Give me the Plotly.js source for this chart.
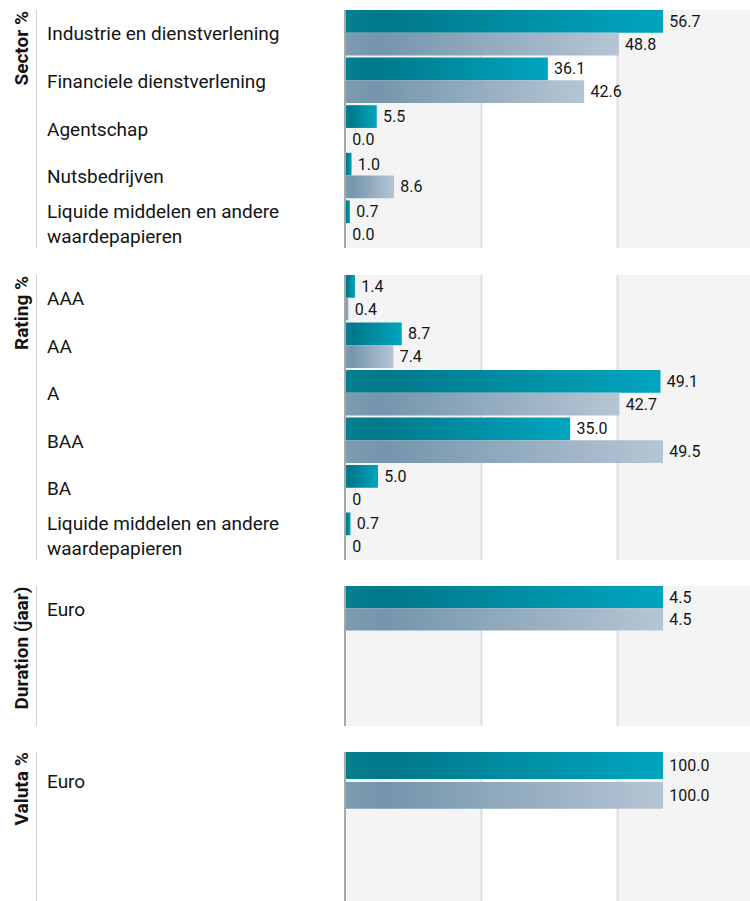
<!DOCTYPE html>
<html><head><meta charset="utf-8">
<script src="https://cdn.plot.ly/plotly-3.0.1.min.js"></script>
<style>html,body{margin:0;padding:0;background:#fff;}#chart{width:750px;height:901px;}</style>
</head><body><div id="chart"></div>
<script>
// ---- data ----
const sectorCats = ["Industrie en dienstverlening", "Financiele dienstverlening", "Agentschap", "Nutsbedrijven", "Liquide middelen en andere<br>waardepapieren"];
const sectorFund = [56.7, 36.1, 5.5, 1.0, 0.7];
const sectorBench = [48.8, 42.6, 0.0, 8.6, 0.0];
const sectorFundText = ["56.7", "36.1", "5.5", "1.0", "0.7"];
const sectorBenchText = ["48.8", "42.6", "0.0", "8.6", "0.0"];

const ratingCats = ["AAA", "AA", "A", "BAA", "BA", "Liquide middelen en andere<br>waardepapieren"];
const ratingFund = [1.4, 8.7, 49.1, 35.0, 5.0, 0.7];
const ratingBench = [0.4, 7.4, 42.7, 49.5, 0, 0];
const ratingFundText = ["1.4", "8.7", "49.1", "35.0", "5.0", "0.7"];
const ratingBenchText = ["0.4", "7.4", "42.7", "49.5", "0", "0"];

const durationCats = ["Euro"];
const durationFund = [4.5];
const durationBench = [4.5];
const durationFundText = ["4.5"];
const durationBenchText = ["4.5"];

const valutaCats = ["Euro"];
const valutaFund = [100.0];
const valutaBench = [100.0];
const valutaFundText = ["100.0"];
const valutaBenchText = ["100.0"];

const panelTitles = ["Sector %", "Rating %", "Duration (jaar)", "Valuta %"];

// ---- layout helpers ----
const W = 750, H = 901;
const TEAL = 'rgb(0, 137, 158)', GREY = 'rgb(138, 163, 186)';
const FONT = 'Roboto, "Noto Sans", sans-serif';
const TXT = '#141414';
const G1 = 0.3354, G2 = 0.6720; // band boundaries as fractions of the plot width
const panels = [
  {cats: sectorCats, fund: sectorFund, bench: sectorBench, ft: sectorFundText, bt: sectorBenchText, top: 10, bottom: 248, slot: 47.6, big: false},
  {cats: ratingCats, fund: ratingFund, bench: ratingBench, ft: ratingFundText, bt: ratingBenchText, top: 275, bottom: 560, slot: 47.5, big: false},
  {cats: durationCats, fund: durationFund, bench: durationBench, ft: durationFundText, bt: durationBenchText, top: 586, bottom: 726, slot: 46.67, big: false},
  {cats: valutaCats, fund: valutaFund, bench: valutaBench, ft: valutaFundText, bt: valutaBenchText, top: 752, bottom: 901, slot: 59, big: true}
];

const data = [];
const layout = {
  width: W, height: H,
  margin: {l: 0, r: 0, t: 0, b: 0, pad: 0},
  paper_bgcolor: '#ffffff', plot_bgcolor: '#ffffff',
  font: {family: FONT, color: TXT},
  showlegend: false, barmode: 'group', hovermode: false,
  shapes: [], annotations: []
};

panels.forEach((p, i) => {
  const s = i === 0 ? '' : String(i + 1);
  const xa = 'x' + s, ya = 'y' + s;
  const maxV = Math.max(...p.fund, ...p.bench);
  const yTop = 1 - p.top / H, yBot = 1 - p.bottom / H;
  const rangeEnd = -0.5 + (p.bottom - p.top) / p.slot;

  const common = {
    type: 'bar', orientation: 'h', xaxis: xa, yaxis: ya, y: p.cats,
    textposition: 'outside', texttemplate: '\u2009%{text}',
    textfont: {family: FONT, size: 16, color: TXT},
    constraintext: 'none', cliponaxis: false, hoverinfo: 'skip'
  };
  data.push(Object.assign({}, common, {
    x: p.fund, text: p.ft, marker: {color: TEAL, line: {width: 0}},
    offset: -0.5, width: p.big ? 0.458 : 0.478
  }));
  data.push(Object.assign({}, common, {
    x: p.bench, text: p.bt, marker: {color: GREY, line: {width: 0}},
    offset: p.big ? 0.008 : -0.022, width: p.big ? 0.452 : 0.478
  }));

  layout['xaxis' + s] = {
    domain: [346 / W, 1], anchor: ya, range: [0, maxV / 0.7847],
    showgrid: false, zeroline: false, showline: false, showticklabels: false, ticks: '', fixedrange: true
  };
  layout['yaxis' + s] = {
    domain: [yBot, yTop], anchor: xa, type: 'category', range: [rangeEnd, -0.5],
    showgrid: false, zeroline: false, showticklabels: false, ticks: '',
    showline: true, linecolor: '#a8a8a8', linewidth: 2, fixedrange: true
  };

  const xd = xa + ' domain', yd = ya + ' domain';
  layout.shapes.push(
    {type: 'rect', layer: 'below', xref: xd, yref: yd, x0: 0, x1: G1, y0: 0, y1: 1, fillcolor: '#f4f4f4', line: {width: 0}},
    {type: 'rect', layer: 'below', xref: xd, yref: yd, x0: G2, x1: 1, y0: 0, y1: 1, fillcolor: '#f4f4f4', line: {width: 0}},
    {type: 'line', layer: 'below', xref: xd, yref: yd, x0: G1, x1: G1, y0: 0, y1: 1, line: {color: '#dedede', width: 2}},
    {type: 'line', layer: 'below', xref: xd, yref: yd, x0: G2, x1: G2, y0: 0, y1: 1, line: {color: '#dedede', width: 2}},
    {type: 'line', layer: 'below', xref: 'paper', yref: yd, x0: 36.5 / W, x1: 36.5 / W, y0: 0, y1: 1, line: {color: '#cfcfcf', width: 1}}
  );

  layout.annotations.push({
    text: '<b>' + panelTitles[i] + '</b>', xref: 'paper', yref: 'paper',
    x: 21 / W, y: yTop, xanchor: 'center', yanchor: 'top', textangle: -90,
    showarrow: false, borderpad: 0, font: {family: FONT, size: 19, color: TXT}
  });
  p.cats.forEach(c => {
    layout.annotations.push({
      text: c, xref: 'paper', yref: ya, x: 46 / W, y: c, xanchor: 'left', yanchor: 'middle',
      align: 'left', showarrow: false, borderpad: 0, font: {family: FONT, size: 19, color: TXT}
    });
  });
});

const gd = document.getElementById('chart');
Plotly.newPlot(gd, data, layout, {staticPlot: true, displayModeBar: false}).then(() => {
  const NS = 'http://www.w3.org/2000/svg';
  const svg = gd.querySelector('svg.main-svg');
  let defs = svg.querySelector('defs');
  if (!defs) { defs = document.createElementNS(NS, 'defs'); svg.insertBefore(defs, svg.firstChild); }
  function addGrad(id, stops) {
    const g = document.createElementNS(NS, 'linearGradient');
    g.setAttribute('id', id); g.setAttribute('x1', '0'); g.setAttribute('y1', '0'); g.setAttribute('x2', '1'); g.setAttribute('y2', '0');
    stops.forEach(([o, c]) => { const st = document.createElementNS(NS, 'stop'); st.setAttribute('offset', o); st.setAttribute('stop-color', c); g.appendChild(st); });
    defs.appendChild(g);
  }
  addGrad('gTeal', [[0, '#05808f'], [0.12, '#00788a'], [1, '#00a5bf']]);
  addGrad('gGrey', [[0, '#7e9cb1'], [0.12, '#7495ac'], [1, '#b6c5d4']]);
  const norm = v => (v || '').replace(/\s/g, '');
  gd.querySelectorAll('.barlayer .point path').forEach(path => {
    const f = norm(path.style.fill);
    if (f === norm(TEAL)) path.style.fill = 'url(#gTeal)';
    else if (f === norm(GREY)) path.style.fill = 'url(#gGrey)';
  });
});
</script>
</body></html>
